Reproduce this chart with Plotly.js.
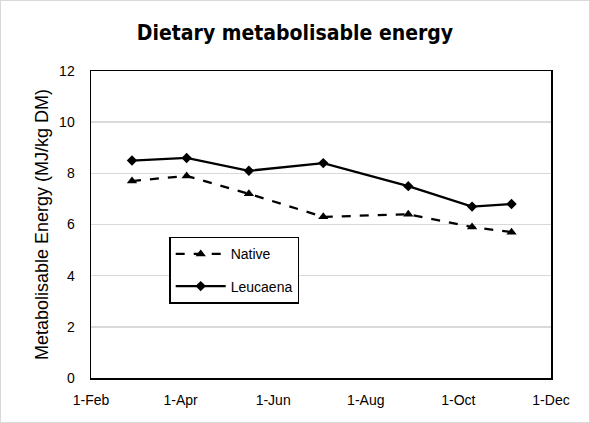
<!DOCTYPE html>
<html>
<head>
<meta charset="utf-8">
<script src="https://cdn.plot.ly/plotly-3.0.1.min.js"></script>
<style>
  html, body { margin: 0; padding: 0; background: #fff; }
  #wrap { width: 588px; height: 421px; border: 1px solid #d9d9d9; }
  #chart { width: 588px; height: 421px; }
</style>
</head>
<body>
<div id="wrap"><div id="chart"></div></div>
<script>
// Data
const dates = ['2022-02-28', '2022-04-05', '2022-05-16', '2022-07-04', '2022-08-29', '2022-10-10', '2022-11-05'];
const nativeME = [7.7, 7.9, 7.2, 6.3, 6.4, 5.9, 5.7];
const leucaenaME = [8.5, 8.6, 8.1, 8.4, 7.5, 6.7, 6.8];
const tickDates = ['2022-02-01', '2022-04-01', '2022-06-01', '2022-08-01', '2022-10-01', '2022-12-01'];
const tickLabels = ['1-Feb', '1-Apr', '1-Jun', '1-Aug', '1-Oct', '1-Dec'];

const font = 'Liberation Sans, Arial, sans-serif';

const traces = [
  {
    x: dates, y: nativeME, name: 'Native', type: 'scatter', mode: 'lines+markers',
    legendgroup: 'a',
    line: { color: '#000', width: 2.25, dash: 'dash' },
    marker: { symbol: 'triangle-up', size: 9, color: '#000' }
  },
  {
    x: dates, y: leucaenaME, name: 'Leucaena', type: 'scatter', mode: 'lines+markers',
    legendgroup: 'b',
    line: { color: '#000', width: 2.25 },
    marker: { symbol: 'diamond', size: 8, color: '#000' }
  }
];

const layout = {
  width: 588, height: 421,
  margin: { l: 90, r: 38, t: 70, b: 44 },
  paper_bgcolor: '#fff', plot_bgcolor: '#fff',
  font: { family: font, color: '#000', size: 14 },
  title: {
    text: '<b>Dietary metabolisable energy</b>',
    font: { family: 'Liberation Sans Narrow, DejaVu Sans Condensed, Arial Narrow, sans-serif', size: 21, color: '#000' },
    x: 0.5, xanchor: 'center', y: 0.925, yanchor: 'middle'
  },
  xaxis: {
    type: 'date',
    range: ['2022-02-01', '2022-12-01'],
    tickvals: tickDates, ticktext: tickLabels,
    showgrid: false, zeroline: false,
    showline: true, linecolor: '#000', linewidth: 1.5, mirror: true,
    ticks: 'outside', ticklen: 9, tickcolor: 'rgba(0,0,0,0)',
    tickfont: { size: 14, family: font }
  },
  yaxis: {
    range: [0, 12], dtick: 2, tick0: 0,
    showgrid: true, gridcolor: '#d9d9d9', gridwidth: 1.5,
    zeroline: false,
    showline: true, linecolor: '#000', linewidth: 1.5, mirror: true,
    ticks: 'outside', ticklen: 12, tickcolor: 'rgba(0,0,0,0)',
    tickfont: { size: 14, family: font },
    title: { text: 'Metabolisable Energy (MJ/kg DM)', font: { size: 18, family: font }, standoff: 6 }
  },
  legend: {
    x: 0.17, xanchor: 'left', y: 0.46, yanchor: 'top',
    bgcolor: '#fff', bordercolor: '#000', borderwidth: 1.5,
    font: { size: 14, family: font },
    tracegroupgap: 11,
    itemwidth: 50,
    traceorder: 'grouped'
  },
  showlegend: true
};

Plotly.newPlot('chart', traces, layout, { displayModeBar: false, staticPlot: true });
</script>
</body>
</html>
